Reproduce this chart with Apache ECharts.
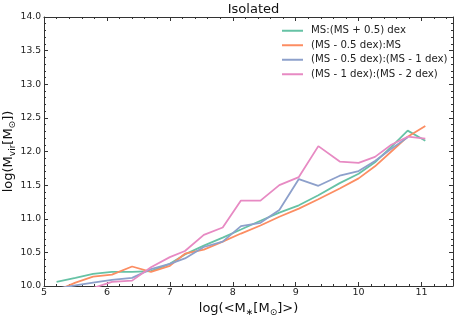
<!DOCTYPE html>
<html>
<head>
<meta charset="utf-8">
<script src="https://cdn.jsdelivr.net/npm/echarts@6/dist/echarts.min.js"></script>
<style>html,body{margin:0;padding:0;background:#fff;}#c{width:457px;height:318px;}</style>
</head>
<body>
<div id="c"></div>
<script>
var xBins = [5.2, 5.5, 5.78, 6.08, 6.4, 6.7, 7.0, 7.24, 7.54, 7.84, 8.13, 8.44, 8.74, 9.05, 9.36, 9.7, 10.0, 10.26, 10.52, 10.78, 11.06];
var msPlus = [10.06, 10.12, 10.18, 10.21, 10.21, 10.22, 10.33, 10.47, 10.6, 10.72, 10.84, 10.97, 11.09, 11.2, 11.35, 11.53, 11.67, 11.84, 12.07, 12.31, 12.16];
var msMinusHalf = [9.93, 10.05, 10.14, 10.17, 10.29, 10.21, 10.3, 10.48, 10.54, 10.66, 10.78, 10.9, 11.03, 11.15, 11.29, 11.45, 11.6, 11.78, 12.0, 12.22, 12.38];
var halfToOne = [9.96, 10.01, 10.05, 10.09, 10.12, 10.25, 10.33, 10.41, 10.58, 10.66, 10.89, 10.94, 11.13, 11.59, 11.49, 11.64, 11.71, 11.86, 12.04, 12.21, null];
var oneToTwo = [null, null, 9.97, 10.06, 10.08, 10.28, 10.43, 10.52, 10.76, 10.87, 11.27, 11.27, 11.5, 11.62, 12.08, 11.85, 11.83, 11.92, 12.1, 12.22, 12.19];
var seriesNames = ['MS:(MS + 0.5) dex', '(MS - 0.5 dex):MS', '(MS - 0.5 dex):(MS - 1 dex)', '(MS - 1 dex):(MS - 2 dex)'];
var colors = ['#66c2a5', '#fc8d62', '#8da0cb', '#e78ac3'];

function pairs(ys) {
  var out = [];
  for (var i = 0; i < xBins.length; i++) {
    if (ys[i] !== null) out.push([xBins[i], ys[i]]);
  }
  return out;
}
var allY = [msPlus, msMinusHalf, halfToOne, oneToTwo];
var FONT = 'DejaVu Sans';
var axisColor = '#333';

var series = allY.map(function (ys, i) {
  return {
    name: seriesNames[i],
    type: 'line',
    data: pairs(ys),
    showSymbol: false,
    symbol: 'none',
    clip: true,
    lineStyle: { color: colors[i], width: 1.8 },
    itemStyle: { color: colors[i] },
    emphasis: { disabled: true },
    animation: false
  };
});

var nameRich = {
  a: { fontFamily: FONT, fontSize: 13, color: '#111', lineHeight: 16 },
  s: { fontFamily: FONT, fontSize: 9, color: '#111', lineHeight: 10, verticalAlign: 'bottom' }
};

var chart = echarts.init(document.getElementById('c'), null, { renderer: 'canvas' });
chart.setOption({
  animation: false,
  textStyle: { fontFamily: FONT },
  title: {
    text: 'Isolated',
    left: 248.5,
    textAlign: 'center',
    top: -2,
    textStyle: { fontFamily: FONT, fontSize: 13, fontWeight: 'normal', color: '#111' }
  },
  legend: {
    data: seriesNames,
    orient: 'vertical',
    left: 282,
    top: 23.5,
    padding: 0,
    itemWidth: 21,
    itemHeight: 2,
    itemGap: 0,
    icon: 'rect',
    textStyle: { fontFamily: FONT, fontSize: 10.2, lineHeight: 14.5, color: '#222', padding: [0, 0, 0, 3] }
  },
  grid: { left: 44, right: 4, top: 17, bottom: 32, containLabel: false, outerBoundsMode: 'none' },
  xAxis: [{
    type: 'value', min: 5, max: 11.5, interval: 1,
    name: '{a|log(<M}{s|∗}{a|[M}{s|⊙}{a|]>)}',
    nameLocation: 'middle', nameGap: 15, nameMoveOverlap: false,
    nameTextStyle: { rich: nameRich },
    axisLine: { show: true, lineStyle: { color: axisColor, width: 1 } },
    axisTick: { show: true, inside: true, length: 4, lineStyle: { color: axisColor } },
    minorTick: { show: true, splitNumber: 5, length: 2, lineStyle: { color: axisColor } },
    axisLabel: { fontFamily: FONT, fontSize: 9.5, color: '#222', margin: 2, showMaxLabel: false },
    splitLine: { show: false }
  }, {
    type: 'value', min: 5, max: 11.5, interval: 1, position: 'top',
    axisLine: { show: true, onZero: false, lineStyle: { color: axisColor, width: 1 } },
    axisTick: { show: true, inside: true, length: 4, lineStyle: { color: axisColor } },
    minorTick: { show: true, splitNumber: 5, length: 2, lineStyle: { color: axisColor } },
    axisLabel: { show: false },
    splitLine: { show: false }
  }],
  yAxis: [{
    type: 'value', min: 10, max: 14, interval: 0.5,
    name: '{a|log(M}{s|vir}{a|[M}{s|⊙}{a|])}',
    nameLocation: 'middle', nameGap: 27, nameRotate: 90, nameMoveOverlap: false,
    nameTextStyle: { rich: nameRich },
    axisLine: { show: true, lineStyle: { color: axisColor, width: 1 } },
    axisTick: { show: true, inside: true, length: 4, lineStyle: { color: axisColor } },
    minorTick: { show: true, splitNumber: 5, length: 2, lineStyle: { color: axisColor } },
    axisLabel: { fontFamily: FONT, fontSize: 9.2, color: '#222', margin: 3, formatter: function (v) { return v.toFixed(1); } },
    splitLine: { show: false }
  }, {
    type: 'value', min: 10, max: 14, interval: 0.5, position: 'right',
    axisLine: { show: true, onZero: false, lineStyle: { color: axisColor, width: 1 } },
    axisTick: { show: true, inside: true, length: 4, lineStyle: { color: axisColor } },
    minorTick: { show: true, splitNumber: 5, length: 2, lineStyle: { color: axisColor } },
    axisLabel: { show: false },
    splitLine: { show: false }
  }],
  series: series
});
</script>
</body>
</html>
